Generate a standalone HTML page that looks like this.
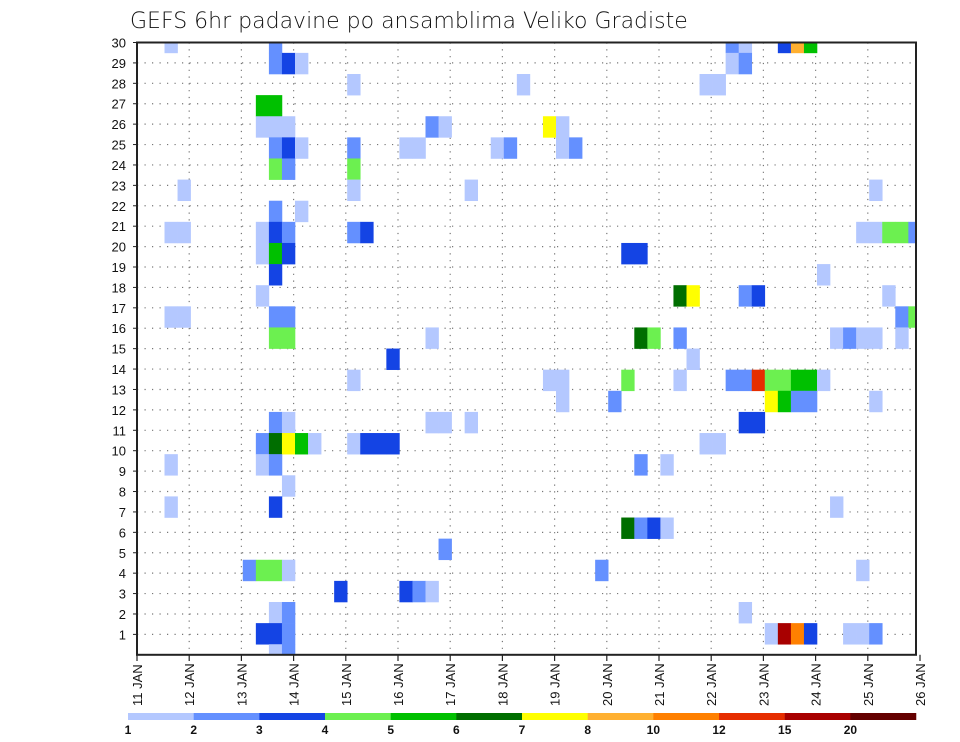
<!DOCTYPE html>
<html><head><meta charset="utf-8"><style>
body{margin:0;background:#fff;}
svg{display:block;font-family:"Liberation Sans","DejaVu Sans",sans-serif;}
</style></head><body>
<svg id="chart" width="960" height="742" viewBox="0 0 960 742" xmlns="http://www.w3.org/2000/svg">
<text x="130" y="28" font-size="22" fill="#111" font-family="DejaVu Sans, sans-serif" font-weight="300">GEFS 6hr padavine po ansamblima Veliko Gradiste</text>
<defs><clipPath id="pc"><rect x="137" y="42.5" width="779" height="612.3"/></clipPath></defs>
<g id="grid"></g>
<g id="cells" clip-path="url(#pc)"></g>
<rect x="137" y="42.5" width="779" height="612.3" fill="none" stroke="#222" stroke-width="2"/>
<g id="axes"></g>
<g id="cbar"></g>
</svg>
<script>
const members = [29,29,29,29,29,29,29, 28,28,28,28,28, 27,27,27,27, 26,26, 25,25,25,25,25,25,25, 24,24,24,24,24,24,24,24,24,24, 23,23,23, 22,22,22,22, 21,21, 20,20,20,20,20,20,20,20,20,20,20,20, 19,19,19,19,19, 18,18, 17,17,17,17,17,17, 16,16,16,16,16,16, 15,15,15,15,15,15,15,15,15,15,15, 14,14, 13,13,13,13,13,13,13,13,13,13,13,13,13, 12,12,12,12,12,12,12, 11,11,11,11,11,11,11, 10,10,10,10,10,10,10,10,10,10,10, 9,9,9,9,9, 8, 7,7,7, 6,6,6,6, 5, 4,4,4,4,4,4, 3,3,3,3, 2,2,2, 1,1,1,1,1,1,1,1,1,1, 0,0];
const steps = [2,10,45,46,49,50,51, 10,11,12,45,46, 16,29,43,44, 9,10, 9,10,11,22,23,31,32, 10,11,12,16,20,21,27,28,32,33, 10,11,16, 3,16,25,56, 10,12, 2,3,9,10,11,16,17,55,56,57,58,59, 9,10,11,37,38, 10,52, 9,41,42,46,47,57, 2,3,10,11,58,59, 10,11,22,38,39,41,53,54,55,56,58, 19,42, 16,31,32,37,41,45,46,47,48,49,50,51,52, 32,36,48,49,50,51,56, 10,11,22,23,25,46,47, 9,10,11,12,13,16,17,18,19,43,44, 2,9,10,38,40, 11, 2,10,53, 37,38,39,40, 23, 8,9,10,11,35,55, 15,20,21,22, 10,11,46, 9,10,11,48,49,50,51,54,55,56, 10,11];
const levels = [1,2,2,1,3,8,5, 2,3,1,1,2, 1,1,1,1, 5,5, 1,1,1,2,1,7,1, 2,3,1,2,1,1,1,2,1,2, 4,2,4, 1,1,1,1, 2,1, 1,1,1,3,2,2,3,1,1,4,4,2, 1,5,3,3,3, 3,1, 1,6,7,2,3,1, 1,1,2,2,2,4, 4,4,1,6,4,2,1,2,1,1,1, 3,1, 1,1,1,4,1,2,2,10,4,4,5,5,1, 1,2,7,5,2,2,1, 2,1,1,1,1,3,3, 2,6,7,5,1,1,3,3,3,1,1, 1,1,2,2,1, 1, 1,3,1, 6,2,3,1, 2, 2,4,4,1,2,1, 3,3,2,1, 1,2,1, 3,3,2,1,11,9,3,1,1,2, 1,2];
const yTicks = [1,2,3,4,5,6,7,8,9,10,11,12,13,14,15,16,17,18,19,20,21,22,23,24,25,26,27,28,29,30];
const xTicks = ["11 JAN","12 JAN","13 JAN","14 JAN","15 JAN","16 JAN","17 JAN","18 JAN","19 JAN","20 JAN","21 JAN","22 JAN","23 JAN","24 JAN","25 JAN","26 JAN"];
const cbarLabels = ["1","2","3","4","5","6","7","8","10","12","15","20"];
const palette = ["#b4c8ff","#6490ff","#1444e4","#6cf050","#00c000","#006e00","#ffff00","#ffb030","#ff8000","#e62e00","#a80000","#640000"];

const NS="http://www.w3.org/2000/svg";
function mk(tag,attrs,parent){const e=document.createElementNS(NS,tag);for(const k in attrs)e.setAttribute(k,attrs[k]);parent.appendChild(e);return e;}
const xStep=i=>138.4+i*13.05, cw=13.05;
const yCell=k=>654.8-(k+0.5)*21.12, ch=21.12;
const yLab=k=>654.8-k*20.41;
const xDay=d=>137+d*52.2;

const grid=document.getElementById('grid');
for(let k=1;k<30;k++){
  const l=mk('line',{x1:137,x2:916,y1:yLab(k),y2:yLab(k),stroke:'#777','stroke-width':1.2,'stroke-dasharray':'1.2,6.3'},grid);
  
  
}
for(let d=1;d<15;d++){
  const l=mk('line',{x1:xDay(d),x2:xDay(d),y1:42.5,y2:654.8,stroke:'#777','stroke-width':1.2,'stroke-dasharray':'1.2,5.6'},grid);
  
  
}

const cells=document.getElementById('cells');
for(let n=0;n<members.length;n++){
  const r=mk('rect',{x:xStep(steps[n]),y:yCell(members[n]),width:cw+0.3,height:ch+0.3,fill:palette[levels[n]-1]},cells);
  
  
}

const axes=document.getElementById('axes');
yTicks.forEach(k=>{
  const y=yLab(k);
  mk('line',{x1:133,x2:137,y1:y,y2:y,stroke:'#222','stroke-width':1},axes);
  const t=mk('text',{x:126,y:y+5,'text-anchor':'end','font-size':13,fill:'#111'},axes);
  t.textContent=k;
  
  
});
xTicks.forEach((s,d)=>{
  const x=xDay(d);
  mk('line',{x1:x,x2:x,y1:654.8,y2:661,stroke:'#222','stroke-width':1.2},axes);
  const t=mk('text',{x:0,y:0,'font-size':13,fill:'#111',transform:`translate(${x+5},${706}) rotate(-90)`},axes);
  t.textContent=s;
  
  
});

const cbar=document.getElementById('cbar');
palette.forEach((c,i)=>{
  const r=mk('rect',{x:128+i*65.67,y:713,width:65.9,height:7,fill:c},cbar);
  
  
  const t=mk('text',{x:128+i*65.67,y:734,'text-anchor':'middle','font-size':12,'font-weight':'bold',fill:'#111'},cbar);
  t.textContent=cbarLabels[i];
  
  
});
</script>
</body></html>
